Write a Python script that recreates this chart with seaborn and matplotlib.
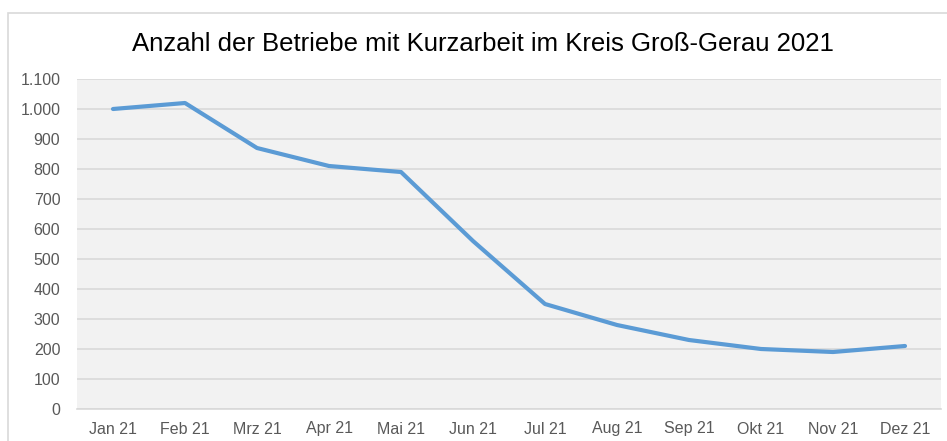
import matplotlib
matplotlib.use("Agg")
import matplotlib.pyplot as plt
from matplotlib.patches import Rectangle
import seaborn as sns
import pandas as pd
import numpy as np

months = ["Jan 21", "Feb 21", "Mrz 21", "Apr 21", "Mai 21", "Jun 21",
          "Jul 21", "Aug 21", "Sep 21", "Okt 21", "Nov 21", "Dez 21"]
values = [1000, 1020, 870, 810, 790, 560, 350, 280, 230, 200, 190, 210]
y_ticks = [0, 100, 200, 300, 400, 500, 600, 700, 800, 900, 1000, 1100]
y_labels = ["0", "100", "200", "300", "400", "500", "600", "700", "800", "900", "1.000", "1.100"]
title = "Anzahl der Betriebe mit Kurzarbeit im Kreis Groß-Gerau 2021"

df = pd.DataFrame({"Monat": months, "Betriebe": values})

sns.set_style("white")
plt.rcParams["font.family"] = ["Liberation Sans", "DejaVu Sans"]

W, H = 947, 441
fig = plt.figure(figsize=(W / 100, H / 100), dpi=100)
fig.patch.set_facecolor("white")
# outer chart border (only top and left visible)
fig.patches.append(Rectangle((8 / W, -0.1), 1.2, (H - 13) / H + 0.1,
                             transform=fig.transFigure, fill=False,
                             edgecolor="#D9D9D9", linewidth=1.2))

left, right, top, bottom = 77, 941, 79, 409
ax = fig.add_axes([left / W, (H - bottom) / H, (right - left) / W, (bottom - top) / H])
ax.set_facecolor("#F2F2F2")

sns.lineplot(data=df, x="Monat", y="Betriebe", ax=ax, sort=False,
             color="#5B9BD5", linewidth=3.0)

ax.set_ylim(0, 1100)
ax.set_xlim(-0.5, len(months) - 0.5)
ax.set_yticks(y_ticks)
ax.set_yticklabels(y_labels)
ax.set_xticks(range(len(months)))
ax.set_xticklabels(months)
ax.set_xticks(np.arange(-0.5, len(months)), minor=True)
ax.tick_params(axis="x", which="major", length=0, pad=9, labelsize=11.5, labelcolor="#595959")
ax.tick_params(axis="x", which="minor", length=5, color="#D9D9D9", width=1)
ax.tick_params(axis="y", length=0, pad=12, labelsize=11.5, labelcolor="#595959")
ax.grid(axis="y", color="#D9D9D9", linewidth=1.2)
ax.set_axisbelow(True)
for s in ["top", "right", "left"]:
    ax.spines[s].set_visible(False)
ax.spines["bottom"].set_color("#D9D9D9")
ax.spines["bottom"].set_linewidth(1.2)
ax.set_xlabel("")
ax.set_ylabel("")

fig.text((130 + 835) / 2 / W, 1 - 44 / H, title, ha="center", va="center",
         fontsize=18.5, color="black")

fig.savefig("out.png", dpi=100)
